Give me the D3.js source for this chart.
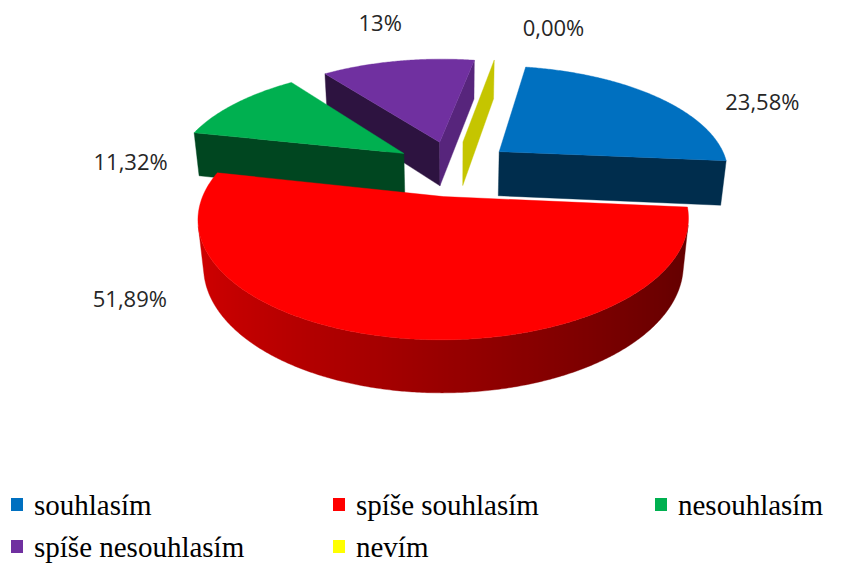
<!DOCTYPE html>
<html>
<head>
<meta charset="utf-8">
<script src="https://cdn.jsdelivr.net/npm/d3@7"></script>
<style>
  html, body { margin: 0; padding: 0; background: #ffffff; }
  svg { display: block; }
  .legend text { font-family: "Liberation Serif", "Times New Roman", Tinos, "DejaVu Serif", serif; }
  .labels text { font-family: "Open Sans", sans-serif; }
</style>
</head>
<body>
<script>
// ---- data ----
const categories = ["souhlasím", "spíše souhlasím", "nesouhlasím", "spíše nesouhlasím", "nevím"];
const percentValues = [23.58, 51.89, 11.32, 13, 0];
const labelDecimals = [2, 2, 2, 0, 2];
const sliceColors = ["#0070C0", "#FF0000", "#00B050", "#7030A0", "#FFFF00"];

// ---- layout ----
const W = 841, H = 565;
const deg = Math.PI / 180;
// perspective camera looking down on a unit-radius disc
const view = { cx: 453, cy: 168, focal: 1150, dist: 5, tilt: 27.5 * deg };
const thickness = 0.225;      // disc height in radius units
const explode = 0.26;         // slice pull-out in radius units
const firstSlice = 10 * deg;  // rotation of the first slice
// data labels: [angle in degrees, radius] on the top plane around the pie centre
const labelPolar = [[65, 1.67], [229, 1.53], [272.7, 1.42], [347, 1.86], [18.2, 1.83]];

const cosT = Math.cos(view.tilt), sinT = Math.sin(view.tilt);
const camera = [0, -view.dist * cosT, view.dist * sinT];

function project([x, y, z]) {
  const d = view.dist + y * cosT - z * sinT;
  return [view.cx + view.focal * x / d, view.cy - view.focal * (y * sinT + z * cosT) / d];
}
const dot = (a, b) => a[0] * b[0] + a[1] * b[1] + a[2] * b[2];
const sub = (a, b) => [a[0] - b[0], a[1] - b[1], a[2] - b[2]];
const facing = (n, p) => dot(n, sub(camera, p)) > 0;
const distToCam = p => Math.hypot(...sub(camera, p));
const shade = (c, k) => d3.rgb(c.r * k, c.g * k, c.b * k).formatHex();
const line = d3.line().curve(d3.curveLinearClosed);

const locale = d3.formatLocale({ decimal: ",", thousands: " ", grouping: [3], currency: ["", " Kč"] });

const rows = categories.map((c, i) => ({ name: c, value: percentValues[i], color: sliceColors[i], dec: labelDecimals[i], i }));

const pie = d3.pie().sort(null).value(d => d.value)
  .startAngle(firstSlice).endAngle(firstSlice + 2 * Math.PI);
const arcs = pie(rows);

const svg = d3.select("body").append("svg").attr("width", W).attr("height", H);
const defs = svg.append("defs");
const pieG = svg.append("g");

const slices = arcs.map(a => {
  const mid = (a.startAngle + a.endAngle) / 2;
  const ox = explode * Math.sin(mid), oy = explode * Math.cos(mid);
  return {
    a, mid,
    rim: (t, z) => [ox + Math.sin(t), oy + Math.cos(t), z],
    hub: z => [ox, oy, z],
    centroid: [ox + 0.5 * Math.sin(mid), oy + 0.5 * Math.cos(mid), -thickness / 2]
  };
});

// paint far slices first
slices.sort((s, t) => distToCam(t.centroid) - distToCam(s.centroid));

slices.forEach(s => {
  const { startAngle: a0, endAngle: a1, data } = s.a;
  const base = d3.rgb(data.color);
  const g = pieG.append("g").attr("class", "slice");
  const span = a1 - a0;

  // radial walls
  const walls = [
    { t: a0, n: [-Math.cos(a0), Math.sin(a0), 0] },
    { t: a1, n: [Math.cos(a1), -Math.sin(a1), 0] }
  ];
  let wallDone = false;
  walls.forEach(w => {
    if (span < 1e-9 && wallDone) return;
    const midPt = [(s.hub(0)[0] + s.rim(w.t, 0)[0]) / 2, (s.hub(0)[1] + s.rim(w.t, 0)[1]) / 2, -thickness / 2];
    if (!facing(w.n, midPt)) return;
    wallDone = true;
    const col = shade(base, 0.4 + 0.38 * Math.max(0, w.n[0]));
    const pts = [s.hub(0), s.rim(w.t, 0), s.rim(w.t, -thickness), s.hub(-thickness)].map(project);
    g.append("path").attr("d", line(pts))
      .attr("fill", col).attr("stroke", col).attr("stroke-width", 0.4);
  });

  if (span < 1e-9) return;

  // outer curved side
  const steps = Math.max(2, Math.ceil(span / (0.5 * deg)));
  const ts = d3.range(steps + 1).map(j => a0 + span * j / steps);
  const runs = [];
  let cur = null;
  for (let j = 0; j < steps; j++) {
    const tm = (ts[j] + ts[j + 1]) / 2;
    const vis = facing([Math.sin(tm), Math.cos(tm), 0], s.rim(tm, -thickness / 2));
    if (vis) {
      if (!cur) { cur = [ts[j]]; runs.push(cur); }
      cur.push(ts[j + 1]);
    } else cur = null;
  }
  runs.forEach((run, k) => {
    const top = run.map(t => project(s.rim(t, 0)));
    const bottom = run.map(t => project(s.rim(t, -thickness))).reverse();
    const xs = top.map(p => p[0]);
    const x0 = d3.min(xs), x1 = d3.max(xs);
    const id = `side-${data.i}-${k}`;
    const grad = defs.append("linearGradient").attr("id", id)
      .attr("gradientUnits", "userSpaceOnUse")
      .attr("x1", x0).attr("x2", x1).attr("y1", 0).attr("y2", 0);
    const stops = run.map((t, j) => ({ o: (top[j][0] - x0) / Math.max(1e-6, x1 - x0), c: shade(base, 0.6 - 0.22 * Math.sin(t)) }))
      .sort((p, q) => p.o - q.o);
    grad.selectAll("stop").data(stops).join("stop")
      .attr("offset", d => d.o).attr("stop-color", d => d.c);
    g.append("path").attr("d", line(top.concat(bottom)))
      .attr("fill", `url(#${id})`).attr("stroke", `url(#${id})`).attr("stroke-width", 0.4);
  });

  // top face
  const topPts = [project(s.hub(0))].concat(ts.map(t => project(s.rim(t, 0))));
  g.append("path").attr("d", line(topPts)).attr("fill", base.formatHex())
    .attr("stroke", base.formatHex()).attr("stroke-width", 0.4);
});

// data labels
svg.append("g").attr("class", "labels").selectAll("text").data(rows).join("text")
  .each(function (d) {
    const [ang, r] = labelPolar[d.i];
    const [x, y] = project([r * Math.sin(ang * deg), r * Math.cos(ang * deg), 0]);
    d3.select(this).attr("x", x).attr("y", y);
  })
  .attr("text-anchor", "middle")
  .attr("dominant-baseline", "central")
  .attr("font-size", 22)
  .attr("fill", "#262626")
  .text(d => locale.format(`.${d.dec}f`)(d.value) + "%");

// legend
const legendCols = 3, colW = 322, legendX = 11, legendY = 515, rowH = 42;
const leg = svg.append("g").attr("class", "legend").selectAll("g").data(rows).join("g")
  .attr("transform", (d, i) => `translate(${legendX + (i % legendCols) * colW},${legendY + Math.floor(i / legendCols) * rowH})`);
leg.append("rect").attr("x", 0).attr("y", -17).attr("width", 12).attr("height", 13)
  .attr("fill", d => d.color);
leg.append("text").attr("x", 23).attr("y", 0)
  .attr("font-size", 29).attr("fill", "#000")
  .text(d => d.name);
</script>
</body>
</html>
